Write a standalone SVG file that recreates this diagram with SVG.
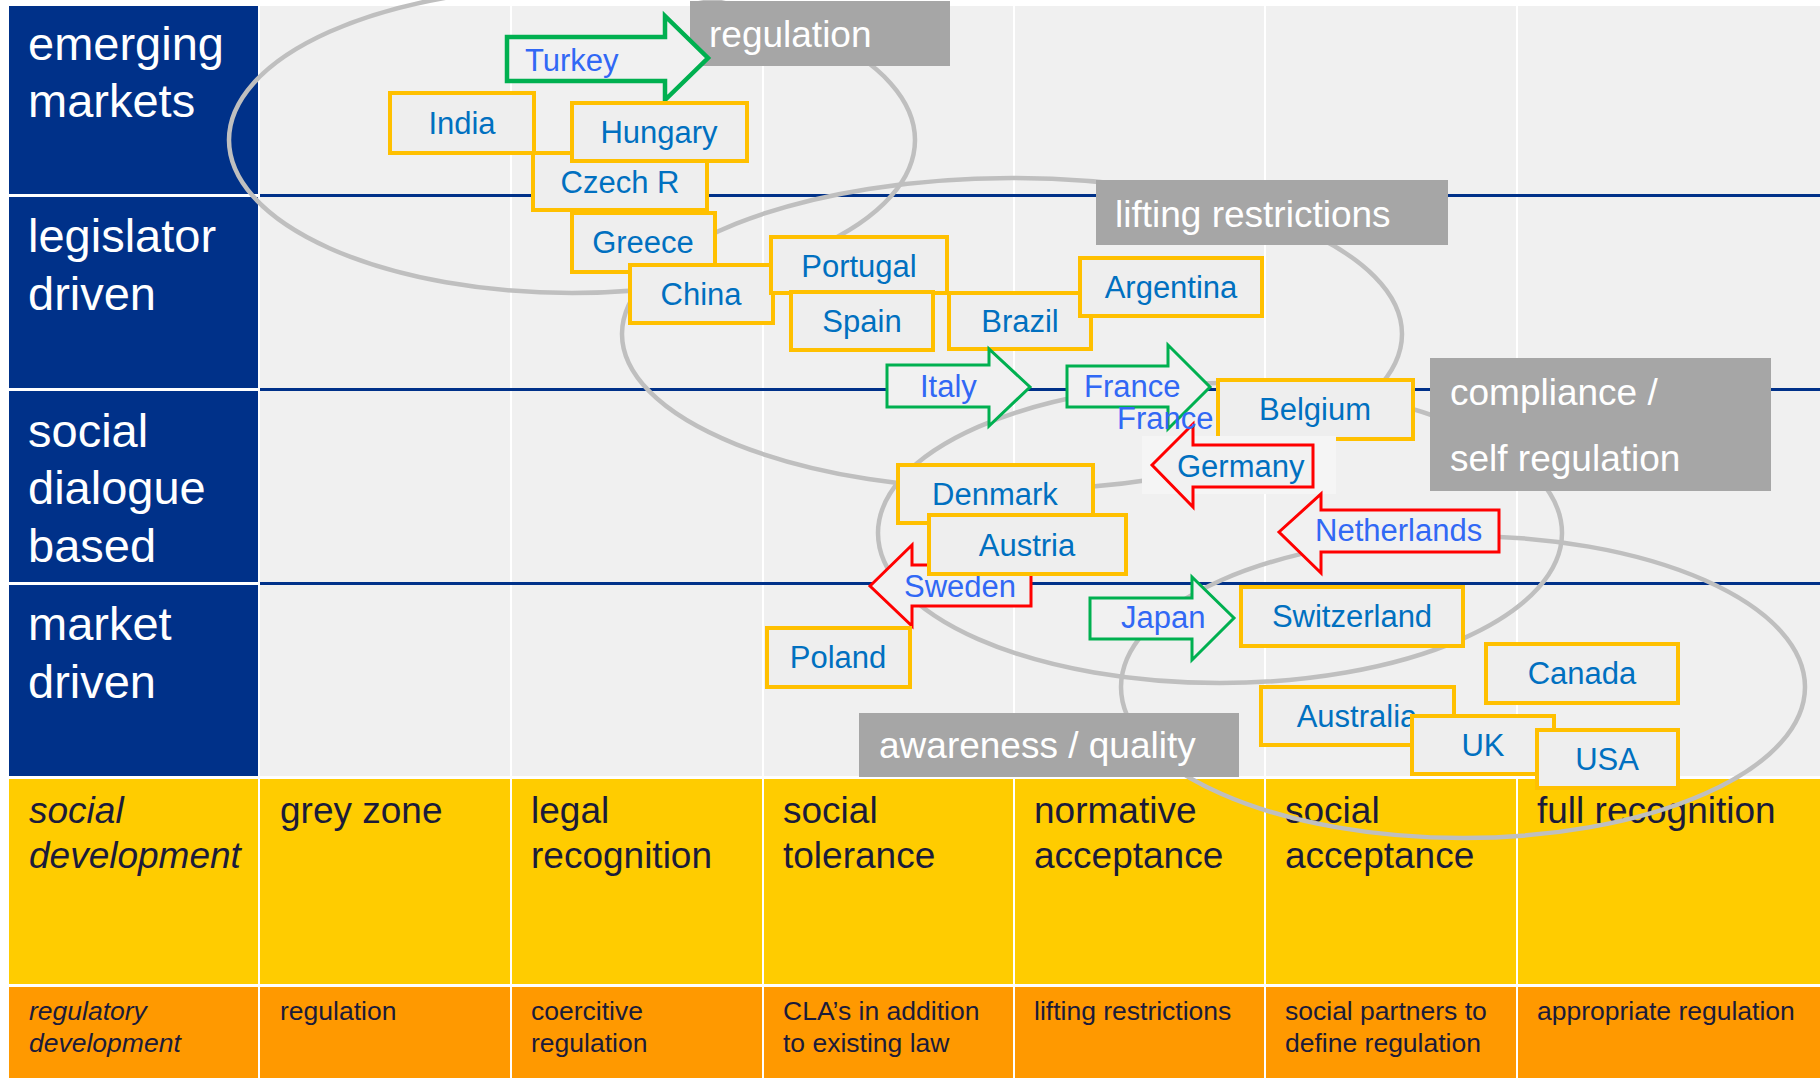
<svg xmlns="http://www.w3.org/2000/svg" width="1820" height="1078" viewBox="0 0 1820 1078">
<style>
text{font-family:"Liberation Sans",Arial,sans-serif}
.hdr{fill:#003189}
.hdt{fill:#fff;font-size:47px}
.cell{fill:#F0F0F0}
.yel{fill:#FFCC00}
.org{fill:#FF9900}
.yt{fill:#1B1B3A;font-size:37px}
.ot{fill:#1B1B3A;font-size:26.5px}
.it{font-style:italic}
.rowline{stroke:#003189;stroke-width:3}
.ell{fill:none;stroke:#BFBFBF;stroke-width:4.5}
.lab{fill:#A6A6A6}
.labt{fill:#fff;font-size:37px}
.box{fill:#EEEEEE;stroke:#FFC000;stroke-width:4}
.bt{fill:#0070C0;font-size:31px;text-anchor:middle}
.ga{fill:#F1F1F1;stroke:#00B050;stroke-width:3}
.ra{fill:#F1F1F1;stroke:#FF0000;stroke-width:3}
.at{fill:#3168F5;font-size:31px}
</style>
<rect x="0" y="0" width="1820" height="1078" fill="#fff"/>
<g id="table">
  <rect class="hdr" x="9" y="6" width="249" height="188"/>
  <rect class="hdr" x="9" y="197" width="249" height="191"/>
  <rect class="hdr" x="9" y="391" width="249" height="191"/>
  <rect class="hdr" x="9" y="585" width="249" height="191"/>
  <rect class="cell" x="260" y="6" width="250" height="770"/>
  <rect class="cell" x="512" y="6" width="250" height="770"/>
  <rect class="cell" x="764" y="6" width="249" height="770"/>
  <rect class="cell" x="1015" y="6" width="249" height="770"/>
  <rect class="cell" x="1266" y="6" width="250" height="770"/>
  <rect class="cell" x="1518" y="6" width="302" height="770"/>
  <line class="rowline" x1="260" y1="195.5" x2="1820" y2="195.5"/>
  <line class="rowline" x1="260" y1="389.5" x2="1820" y2="389.5"/>
  <line class="rowline" x1="260" y1="583.5" x2="1820" y2="583.5"/>
  <text class="hdt" x="28" y="60">emerging</text>
  <text class="hdt" x="28" y="117">markets</text>
  <text class="hdt" x="28" y="252">legislator</text>
  <text class="hdt" x="28" y="310">driven</text>
  <text class="hdt" x="28" y="447">social</text>
  <text class="hdt" x="28" y="504">dialogue</text>
  <text class="hdt" x="28" y="562">based</text>
  <text class="hdt" x="28" y="640">market</text>
  <text class="hdt" x="28" y="698">driven</text>
  <rect class="yel" x="9" y="779" width="249" height="205"/>
  <rect class="yel" x="260" y="779" width="250" height="205"/>
  <rect class="yel" x="512" y="779" width="250" height="205"/>
  <rect class="yel" x="764" y="779" width="249" height="205"/>
  <rect class="yel" x="1015" y="779" width="249" height="205"/>
  <rect class="yel" x="1266" y="779" width="250" height="205"/>
  <rect class="yel" x="1518" y="779" width="302" height="205"/>
  <rect class="org" x="9" y="987" width="249" height="91"/>
  <rect class="org" x="260" y="987" width="250" height="91"/>
  <rect class="org" x="512" y="987" width="250" height="91"/>
  <rect class="org" x="764" y="987" width="249" height="91"/>
  <rect class="org" x="1015" y="987" width="249" height="91"/>
  <rect class="org" x="1266" y="987" width="250" height="91"/>
  <rect class="org" x="1518" y="987" width="302" height="91"/>
  <text class="yt it" x="29" y="823">social</text>
  <text class="yt it" x="29" y="868">development</text>
  <text class="yt" x="280" y="823">grey zone</text>
  <text class="yt" x="531" y="823">legal</text>
  <text class="yt" x="531" y="868">recognition</text>
  <text class="yt" x="783" y="823">social</text>
  <text class="yt" x="783" y="868">tolerance</text>
  <text class="yt" x="1034" y="823">normative</text>
  <text class="yt" x="1034" y="868">acceptance</text>
  <text class="yt" x="1285" y="823">social</text>
  <text class="yt" x="1285" y="868">acceptance</text>
  <text class="yt" x="1537" y="823">full recognition</text>
  <text class="ot it" x="29" y="1020">regulatory</text>
  <text class="ot it" x="29" y="1052">development</text>
  <text class="ot" x="280" y="1020">regulation</text>
  <text class="ot" x="531" y="1020">coercitive</text>
  <text class="ot" x="531" y="1052">regulation</text>
  <text class="ot" x="783" y="1020">CLA’s in addition</text>
  <text class="ot" x="783" y="1052">to existing law</text>
  <text class="ot" x="1034" y="1020">lifting restrictions</text>
  <text class="ot" x="1285" y="1020">social partners to</text>
  <text class="ot" x="1285" y="1052">define regulation</text>
  <text class="ot" x="1537" y="1020">appropriate regulation</text>
</g>
<g id="connectors">
  <ellipse class="ell" cx="572" cy="140" rx="343" ry="153"/>
  <ellipse class="ell" cx="1012" cy="334" rx="390" ry="156"/>
  <ellipse class="ell" cx="1220" cy="533" rx="342" ry="150"/>
  <ellipse class="ell" cx="1463" cy="687" rx="342" ry="151"/>
</g>
<g id="label-regulation"><rect class="lab" x="690" y="1" width="260" height="65"/><text class="labt" x="709" y="47">regulation</text></g>
<g id="label-lifting"><rect class="lab" x="1096" y="180" width="352" height="65"/><text class="labt" x="1115" y="227">lifting restrictions</text></g>
<g id="label-compliance"><rect class="lab" x="1430" y="358" width="341" height="133"/><text class="labt" x="1450" y="405">compliance /</text><text class="labt" x="1450" y="471">self regulation</text></g>
<g id="label-awareness"><rect class="lab" x="859" y="713" width="380" height="64"/><text class="labt" x="879" y="758">awareness / quality</text></g>
<g id="turkey"><polygon class="ga" style="stroke-width:4.5" points="507,37 665,37 665,16 708,58 665,100 665,81 507,81"/><text class="at" x="525" y="71">Turkey</text></g>
<g id="czech"><rect class="box" x="533" y="153" width="174" height="57"/><text class="bt" x="620" y="193">Czech R</text></g>
<g id="india"><rect class="box" x="390" y="93" width="144" height="60"/><text class="bt" x="462" y="134">India</text></g>
<g id="hungary"><rect class="box" x="572" y="103" width="175" height="58"/><text class="bt" x="659" y="143">Hungary</text></g>
<g id="greece"><rect class="box" x="572" y="213" width="143" height="59"/><text class="bt" x="643" y="253">Greece</text></g>
<g id="china"><rect class="box" x="630" y="265" width="143" height="58"/><text class="bt" x="701" y="305">China</text></g>
<g id="portugal"><rect class="box" x="771" y="237" width="176" height="56"/><text class="bt" x="859" y="277">Portugal</text></g>
<g id="spain"><rect class="box" x="791" y="292" width="142" height="58"/><text class="bt" x="862" y="332">Spain</text></g>
<g id="brazil"><rect class="box" x="949" y="293" width="142" height="56"/><text class="bt" x="1020" y="332">Brazil</text></g>
<g id="argentina"><rect class="box" x="1080" y="258" width="182" height="58"/><text class="bt" x="1171" y="298">Argentina</text></g>
<g id="italy"><polygon class="ga" points="887,365 989,365 989,349 1030,387 989,426 989,407 887,407"/><text class="at" x="920" y="397">Italy</text></g>
<g id="belgium"><rect class="box" x="1218" y="380" width="195" height="59"/><text class="bt" x="1315" y="420">Belgium</text></g>
<g id="germany"><rect x="1142" y="436" width="194" height="58" fill="#F5F5F5"/><polygon class="ra" points="1152,465 1193,424 1193,445 1313,445 1313,487 1193,487 1193,507"/><text class="bt" style="text-anchor:start" x="1177" y="477">Germany</text></g>
<g id="france"><polygon class="ga" points="1067,366 1168,366 1168,345 1210,387 1168,429 1168,407 1067,407"/><text class="at" x="1084" y="397">France</text><text class="at" x="1117" y="429">France</text></g>
<g id="netherlands"><polygon class="ra" points="1279,532 1321,494 1321,510 1499,510 1499,552 1321,552 1321,573"/><text class="at" x="1315" y="541">Netherlands</text></g>
<g id="denmark"><rect class="box" x="898" y="465" width="195" height="58"/><text class="bt" x="995" y="505">Denmark</text></g>
<g id="sweden"><polygon class="ra" points="870,586 912,545 912,565 1031,565 1031,606 912,606 912,626"/><text class="at" x="904" y="597">Sweden</text></g>
<g id="austria"><rect class="box" x="929" y="515" width="197" height="59"/><text class="bt" x="1027" y="556">Austria</text></g>
<g id="poland"><rect class="box" x="767" y="628" width="143" height="59"/><text class="bt" x="838" y="668">Poland</text></g>
<g id="japan"><polygon class="ga" points="1090,598 1192,598 1192,577 1234,618 1192,660 1192,639 1090,639"/><text class="at" x="1121" y="628">Japan</text></g>
<g id="switzerland"><rect class="box" x="1241" y="587" width="222" height="59"/><text class="bt" x="1352" y="627">Switzerland</text></g>
<g id="canada"><rect class="box" x="1486" y="644" width="192" height="59"/><text class="bt" x="1582" y="684">Canada</text></g>
<g id="australia"><rect class="box" x="1261" y="687" width="193" height="58"/><text class="bt" x="1357" y="727">Australia</text></g>
<g id="uk"><rect class="box" x="1412" y="716" width="142" height="58"/><text class="bt" x="1483" y="756">UK</text></g>
<g id="usa"><rect class="box" x="1537" y="730" width="141" height="58"/><text class="bt" x="1607" y="770">USA</text></g>
</svg>
